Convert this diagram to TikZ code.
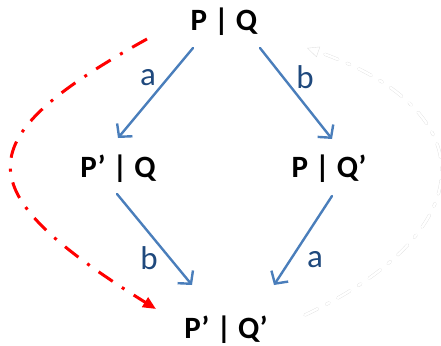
\documentclass[tikz,border=0pt]{standalone}
\usepackage{fontspec}
\setmainfont{Carlito}
\usetikzlibrary{calc,arrows.meta}
\definecolor{arrowblue}{HTML}{4A7EBB}
\definecolor{labelblue}{HTML}{1F497D}
\definecolor{tracered}{HTML}{FF0000}
\tikzset{
    term/.style={
        font=\fontsize{31}{36}\selectfont\bfseries, inner sep=0pt, anchor=base
    },
    act/.style={
        font=\fontsize{33}{38}\selectfont, color=labelblue, inner sep=0pt
    },
    trans/.style={
        draw=arrowblue, line width=2.4pt, -{Straight Barb[length=9pt,width=20pt]}
    }
}

\begin{document}
\begin{tikzpicture}[x=1pt,y=-1pt, line cap=round, line join=round]
\useasboundingbox (0,0) rectangle (441,345);

% states
\node[term] (pq)   at (224,31)  {P | Q};
\node[term] (ppq)  at (118,177) {P’ | Q};
\node[term] (pqq)  at (329,177) {P | Q’};
\node[term] (ppqq) at (226,338) {P’ | Q’};

% transitions
\draw[trans] ($(pq.base)+(-31,17)$) -- ($(ppq.base)+(0,-39)$);
\draw[trans] ($(pq.base)+(36,17)$) -- ($(pqq.base)+(3,-38)$);
\draw[trans] ($(ppq.base)+(-1,17)$) -- ($(ppqq.base)+(-34,-53)$);
\draw[trans] ($(pqq.base)+(3,19)$) -- ($(ppqq.base)+(48,-53)$);

\node[act] (a1) at (148,78)  {a};
\node[act] (b1) at (305,77)  {b};
\node[act] (b2) at (149,258) {b};
\node[act] (a2) at (315,260) {a};

% direct step
\draw[tracered, line width=3pt, line cap=butt,
      dash pattern=on 17pt off 11pt on 3pt off 11pt,
      -{Triangle[length=13pt,width=11pt]}]
  ($(pq.base)+(-77,8)$) .. controls (-35,140) and (-35,190) .. ($(ppqq.base)+(-70,-29)$);

% faint back step
\draw[draw=black!12, line width=0.4pt, double=white, double distance=2.4pt,
      dash pattern=on 14pt off 10pt on 3pt off 10pt,
      -{Triangle[open,length=12pt,width=11pt]}]
  ($(ppqq.base)+(79,-23)$) .. controls (485,230) and (485,110) .. ($(pq.base)+(83,17)$);

\end{tikzpicture}
\end{document}
